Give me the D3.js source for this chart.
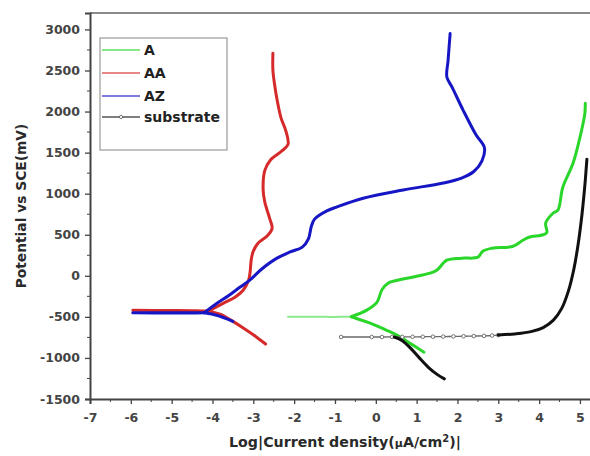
<!DOCTYPE html>
<html>
<head>
<meta charset="utf-8">
<script src="https://cdn.jsdelivr.net/npm/d3@7"></script>
<style>
  html, body { margin: 0; padding: 0; background: #fff; }
  svg { display: block; }
  text { font-family: "DejaVu Sans", Verdana, sans-serif; }
</style>
</head>
<body>
<svg id="chart" width="590" height="456"></svg>
<script>
// Potentiodynamic polarization curves: log|i| (µA/cm²) vs potential (mV vs SCE)
const seriesNames = ["A", "AA", "AZ", "substrate"];
const seriesColors = ["#2bd62b", "#d62a2a", "#1616c4", "#111111"];

const xTicks = [-7, -6, -5, -4, -3, -2, -1, 0, 1, 2, 3, 4, 5];
const yTicks = [-1500, -1000, -500, 0, 500, 1000, 1500, 2000, 2500, 3000];

// Each curve: low-current tip near Ecorr, cathodic branch, anodic branch ([log i, E])
const aFlat = [[-2.15, -500], [-1.8, -500], [-1.5, -500], [-1.2, -500], [-0.9, -500], [-0.6, -498]];
const aCathodic = [[-0.6, -498], [-0.14, -576], [0.25, -660], [0.52, -722], [0.91, -844], [1.18, -930]];
const aAnodic = [[-0.6, -498], [-0.22, -418], [0.03, -320], [0.15, -170], [0.3, -90], [0.76, -30],
  [1.33, 32], [1.5, 70], [1.74, 190], [2.1, 215], [2.5, 227], [2.62, 300], [2.85, 336], [3.36, 360],
  [3.6, 433], [3.75, 470], [4.1, 500], [4.19, 530], [4.16, 640], [4.34, 762], [4.46, 800],
  [4.58, 1078], [4.83, 1370], [5.0, 1686], [5.12, 1978], [5.13, 2100]];

const aaFlat = [[-5.95, -420], [-5.0, -422], [-4.4, -425], [-4.1, -430]];
const aaCathodic = [[-4.1, -430], [-3.8, -470], [-3.5, -555], [-3.2, -650], [-2.95, -735], [-2.7, -830]];
const aaAnodic = [[-4.1, -430], [-3.74, -335], [-3.45, -260], [-3.25, -175], [-3.12, -60], [-3.08, 40],
  [-3.05, 200], [-3.0, 300], [-2.88, 400], [-2.65, 490], [-2.54, 580], [-2.6, 700], [-2.72, 900],
  [-2.76, 1050], [-2.72, 1280], [-2.58, 1410], [-2.3, 1520], [-2.15, 1600], [-2.2, 1760],
  [-2.32, 1920], [-2.42, 2150], [-2.47, 2300], [-2.52, 2500], [-2.52, 2710]];

const azFlat = [[-5.95, -450], [-5.0, -452], [-4.5, -452], [-4.2, -450]];
const azCathodic = [[-4.2, -450], [-3.9, -480], [-3.7, -515], [-3.5, -555]];
const azAnodic = [[-4.2, -450], [-3.89, -335], [-3.6, -240], [-3.33, -140], [-3.08, -50], [-2.8, 80],
  [-2.42, 215], [-2.1, 290], [-1.8, 350], [-1.65, 450], [-1.58, 600], [-1.5, 690], [-1.2, 790],
  [-0.95, 840], [-0.31, 945], [0.67, 1045], [1.65, 1130], [2.1, 1190], [2.4, 1270], [2.6, 1400],
  [2.66, 1560], [2.45, 1720], [2.14, 2015], [1.87, 2295], [1.74, 2420], [1.77, 2623], [1.82, 2950]];

const subFlat = [[-0.85, -745], [-0.1, -745], [0.15, -745], [0.4, -744], [0.65, -744], [0.9, -743],
  [1.15, -742], [1.4, -741], [1.65, -740], [1.9, -738], [2.15, -736], [2.4, -734], [2.65, -731],
  [2.85, -727], [3.0, -722]];
const subCathodic = [[0.45, -745], [0.65, -790], [0.85, -880], [1.05, -990], [1.3, -1120],
  [1.5, -1200], [1.68, -1255]];
const subAnodic = [[3.0, -722], [3.4, -708], [3.8, -680], [4.1, -630], [4.35, -540], [4.55, -400],
  [4.72, -180], [4.85, 80], [4.96, 400], [5.05, 750], [5.12, 1100], [5.17, 1420]];

const curves = [
  { flat: aFlat, branches: [aCathodic, aAnodic], flatWidth: 2, flatOpacity: 0.55, markers: false },
  { flat: aaFlat, branches: [aaCathodic, aaAnodic], flatWidth: 3, flatOpacity: 1, markers: false },
  { flat: azFlat, branches: [azCathodic, azAnodic], flatWidth: 3.2, flatOpacity: 1, markers: false },
  { flat: subFlat, branches: [subCathodic, subAnodic], flatWidth: 1.3, flatOpacity: 1, markers: true }
];

const svg = d3.select("#chart");
const plotLeft = 90, plotTop = 13, plotBottom = 399;

const x = d3.scaleLinear().domain([-7, 5.5]).range([plotLeft, plotLeft + 12.5 * 40.83]);
const y = d3.scaleLinear().domain([-1500, 3200]).range([plotBottom, plotTop]);

// frame
svg.append("line").attr("x1", plotLeft).attr("x2", 600).attr("y1", plotTop).attr("y2", plotTop)
  .attr("stroke", "#8a8a8a").attr("stroke-width", 2);

// axes with minor ticks
const xMinor = d3.range(-7, 5.51, 0.5).filter(v => !xTicks.includes(v));
const yMinor = d3.range(-1500, 3201, 250).filter(v => !yTicks.includes(v));
const plainInt = d => String(d);

const xAxis = svg.append("g").attr("transform", `translate(0,${plotBottom})`);
xAxis.call(d3.axisBottom(x).tickValues(xTicks).tickSize(5).tickPadding(9).tickFormat(plainInt));
xAxis.selectAll(".minor").data(xMinor).join("line").attr("class", "minor")
  .attr("x1", d => x(d)).attr("x2", d => x(d)).attr("y1", 0).attr("y2", 3).attr("stroke", "#444");

const yAxis = svg.append("g").attr("transform", `translate(${plotLeft},0)`);
yAxis.call(d3.axisLeft(y).tickValues(yTicks).tickSize(5).tickPadding(5).tickFormat(plainInt));
yAxis.selectAll(".minor").data(yMinor).join("line").attr("class", "minor")
  .attr("x1", 0).attr("x2", -3).attr("y1", d => y(d)).attr("y2", d => y(d)).attr("stroke", "#444");

[xAxis, yAxis].forEach(g => {
  g.select(".domain").attr("stroke", "#444").attr("stroke-width", 2);
  g.selectAll(".tick line").attr("stroke", "#444").attr("stroke-width", 1.3);
  g.selectAll(".tick text").attr("font-size", 12.5).attr("font-weight", "bold").attr("fill", "#444")
    .style("font-family", "'DejaVu Sans', Verdana, sans-serif");
});

// axis titles
svg.append("text").attr("x", 345).attr("y", 447).attr("text-anchor", "middle")
  .attr("font-size", 14.2).attr("font-weight", "bold").attr("fill", "#2a2a2a")
  .html('Log|Current density(<tspan font-size="11">μ</tspan>A/cm<tspan dy="-5" font-size="10">2</tspan><tspan dy="5">)|</tspan>');
svg.append("text").attr("transform", "translate(26,206) rotate(-90)").attr("text-anchor", "middle")
  .attr("font-size", 13.8).attr("font-weight", "bold").attr("fill", "#2a2a2a")
  .text("Potential vs SCE(mV)");

// curves
const line = d3.line().x(d => x(d[0])).y(d => y(d[1])).curve(d3.curveCatmullRom.alpha(0.5));
const plot = svg.append("g");

curves.forEach((c, i) => {
  const g = plot.append("g");
  g.append("path").attr("d", line(c.flat)).attr("fill", "none")
    .attr("stroke", c.markers ? "#6a6a6a" : seriesColors[i])
    .attr("stroke-width", c.flatWidth).attr("stroke-opacity", c.flatOpacity)
    .attr("stroke-linecap", "round");
  if (c.markers) {
    g.selectAll("circle").data(c.flat).join("circle")
      .attr("cx", d => x(d[0])).attr("cy", d => y(d[1])).attr("r", 1.8)
      .attr("fill", "#fff").attr("stroke", "#666").attr("stroke-width", 0.9);
  }
  c.branches.forEach(b => {
    g.append("path").attr("d", line(b)).attr("fill", "none")
      .attr("stroke", seriesColors[i]).attr("stroke-width", 3)
      .attr("stroke-linecap", "round").attr("stroke-linejoin", "round");
  });
});

// legend
const lg = svg.append("g");
lg.append("rect").attr("x", 100).attr("y", 38).attr("width", 127).attr("height", 112)
  .attr("fill", "#fff").attr("stroke", "#9a9a9a").attr("stroke-width", 1.2);
const legendY = [50, 73, 96, 117];
seriesNames.forEach((name, i) => {
  lg.append("line").attr("x1", 102).attr("x2", 140).attr("y1", legendY[i]).attr("y2", legendY[i])
    .attr("stroke", i === 3 ? "#555" : seriesColors[i]).attr("stroke-width", 1.6)
    .attr("stroke-opacity", i === 3 ? 1 : 0.75);
  if (i === 3) {
    lg.append("circle").attr("cx", 121).attr("cy", legendY[i]).attr("r", 1.6)
      .attr("fill", "#fff").attr("stroke", "#555").attr("stroke-width", 0.8);
  }
  lg.append("text").attr("x", 144).attr("y", legendY[i] + 5)
    .attr("font-size", 14).attr("font-weight", "bold").attr("fill", "#222").text(name);
});
</script>
</body>
</html>
